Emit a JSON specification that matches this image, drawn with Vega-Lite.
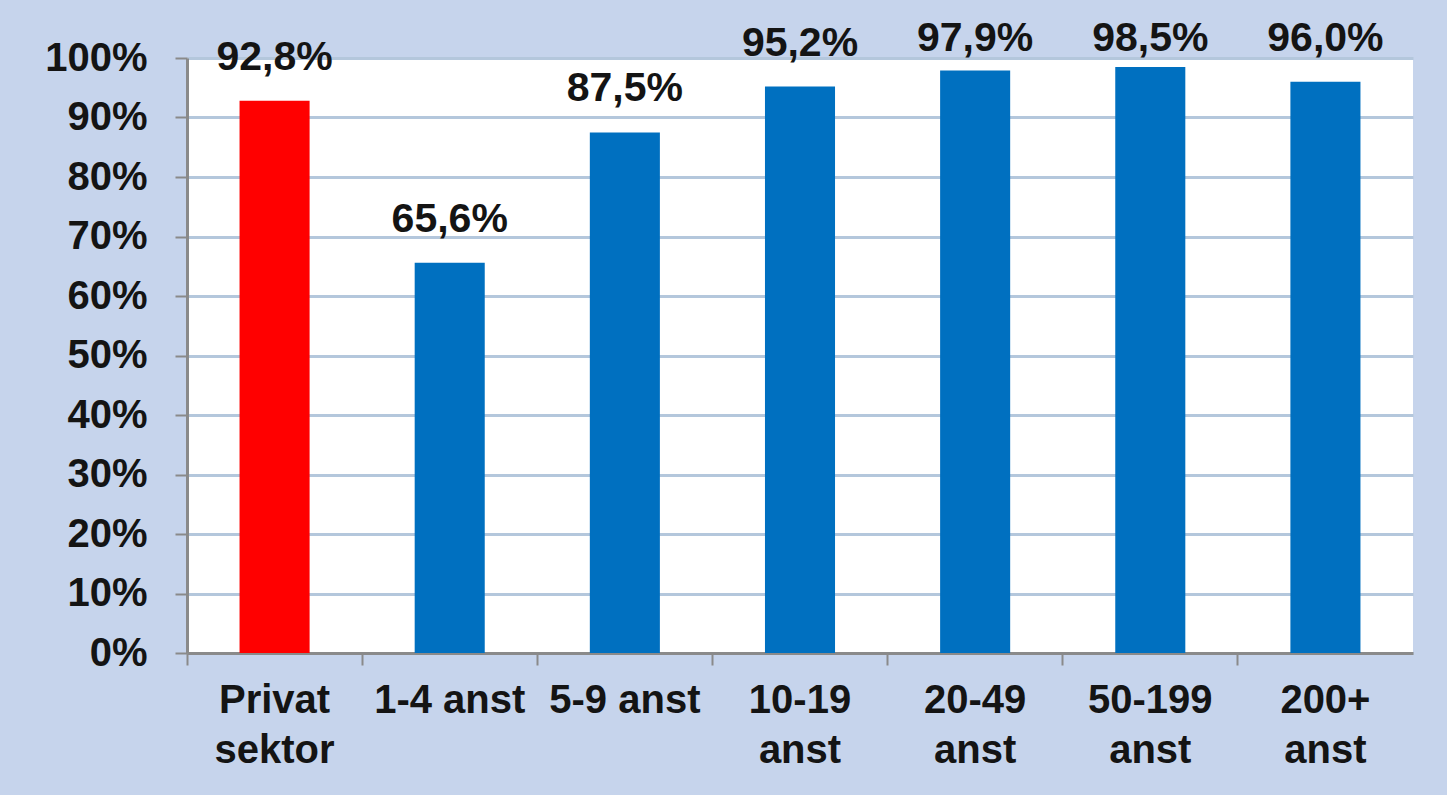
{
  "$schema": "https://vega.github.io/schema/vega-lite/v6.json",
  "autosize": "none",
  "width": 1226,
  "height": 595,
  "padding": {"left": 187, "top": 58, "right": 34, "bottom": 142},
  "background": "#c6d4ec",
  "config": {
    "locale": {"number": {"decimal": ",", "thousands": " ", "grouping": [3], "currency": ["", " kr"]}},
    "view": {"fill": "#ffffff", "stroke": null},
    "font": "Liberation Sans"
  },
  "data": {
    "values": [
      {"cat": "Privat sektor", "value": 0.928},
      {"cat": "1-4 anst", "value": 0.656},
      {"cat": "5-9 anst", "value": 0.875},
      {"cat": "10-19 anst", "value": 0.952},
      {"cat": "20-49 anst", "value": 0.979},
      {"cat": "50-199 anst", "value": 0.985},
      {"cat": "200+ anst", "value": 0.96}
    ]
  },
  "encoding": {
    "x": {
      "field": "cat",
      "type": "nominal",
      "sort": null,
      "scale": {"paddingInner": 0, "paddingOuter": 0},
      "axis": {
        "title": null,
        "labelAngle": 0,
        "bandPosition": 0,
        "labelExpr": "datum.label == '1-4 anst' || datum.label == '5-9 anst' ? datum.label : split(datum.label, ' ')",
        "labelFontSize": 40,
        "labelFontWeight": "bold",
        "labelColor": "#141414",
        "labelLineHeight": 50,
        "labelPadding": 15,
        "tickSize": 12,
        "tickWidth": 2,
        "tickColor": "#8a8a8a",
        "domainColor": "#8a8a8a",
        "domainWidth": 3,
        "grid": false
      }
    }
  },
  "layer": [
    {
      "mark": {"type": "bar", "width": {"band": 0.4}},
      "encoding": {
        "y": {
          "field": "value",
          "type": "quantitative",
          "scale": {"domain": [0, 1], "nice": false},
          "axis": {
            "title": null,
            "format": ".0%",
            "values": [0, 0.1, 0.2, 0.3, 0.4, 0.5, 0.6, 0.7, 0.8, 0.9, 1],
            "labelFontSize": 40,
            "labelFontWeight": "bold",
            "labelColor": "#141414",
            "labelPadding": 28,
            "tickSize": 12,
            "tickWidth": 2,
            "tickColor": "#8a8a8a",
            "domainColor": "#8a8a8a",
            "domainWidth": 3,
            "grid": true,
            "gridColor": "#b4c7dc",
            "gridWidth": 3
          }
        },
        "color": {
          "condition": {"test": "datum.cat == 'Privat sektor'", "value": "#ff0000"},
          "value": "#0070c0"
        }
      }
    },
    {
      "mark": {"type": "text", "baseline": "alphabetic", "dy": -31, "fontSize": 41, "fontWeight": "bold", "color": "#141414"},
      "encoding": {
        "y": {
          "field": "value",
          "type": "quantitative",
          "scale": {"domain": [0, 0.96], "range": [595, 23.8], "clamp": true, "nice": false, "zero": false},
          "axis": null
        },
        "text": {"field": "value", "type": "quantitative", "format": ".1%"}
      }
    }
  ],
  "resolve": {"scale": {"y": "independent"}}
}
